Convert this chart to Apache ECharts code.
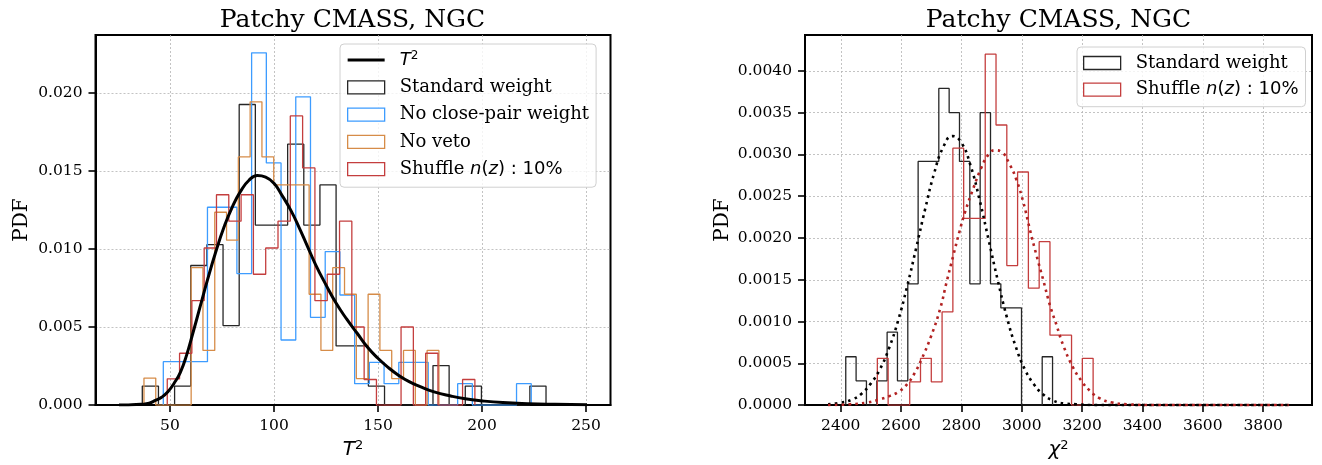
<!DOCTYPE html>
<html><head><meta charset="utf-8">
<script src="https://cdn.jsdelivr.net/npm/echarts@6/dist/echarts.min.js"></script>
<style>html,body{margin:0;padding:0;background:#fff}#c{width:1322px;height:465px}</style>
</head><body><div id="c"></div>
<script>
// ---------------- data ----------------
const panelTitle = 'Patchy CMASS, NGC';
const leftXTicks = [50, 100, 150, 200, 250];
const leftYTicks = [0, 0.005, 0.010, 0.015, 0.020];
const rightXTicks = [2400, 2600, 2800, 3000, 3200, 3400, 3600, 3800];
const rightYTicks = [0, 0.0005, 0.0010, 0.0015, 0.0020, 0.0025, 0.0030, 0.0035, 0.0040];

// left panel histograms: [first edge, last edge] and PDF per bin
const stdLeftRange = [36.7, 230.8];
const stdLeftPdf = [0.00122, 0, 0.00122, 0.00894, 0.01027, 0.00509, 0.01925, 0.01153, 0.01153, 0.01671,
  0.01153, 0.0141, 0.00379, 0.00379, 0.00122, 0, 0, 0, 0.00253, 0, 0.00122, 0, 0, 0, 0.00122];
const noCpRange = [46.8, 223.7];
const noCpPdf = [0.00278, 0.00278, 0.00278, 0.01267, 0.01267, 0.00842, 0.02256, 0.01551, 0.00417, 0.01974,
  0.00562, 0.00983, 0.00705, 0.00137, 0.00274, 0.00137, 0.00274, 0.00274, 0, 0, 0.00137, 0, 0, 0, 0.00137];
const noVetoRange = [37.5, 179.3];
const noVetoPdf = [0.00173, 0, 0, 0, 0.0088, 0.0035, 0.01235, 0.01056, 0.01589, 0.01942,
  0.01589, 0.0141, 0.0141, 0.0141, 0.0071, 0.0035, 0.0088, 0.0071, 0.0017, 0.0071, 0.0035, 0.0017, 0.0035, 0, 0.0035];
const shufLeftRange = [48.7, 196.6];
const shufLeftPdf = [0.00168, 0.00332, 0.00669, 0.01006, 0.01347, 0.01178, 0.01347, 0.00838, 0.01006, 0.01178,
  0.01852, 0.01519, 0.00669, 0.00838, 0.01178, 0.005, 0.00164, 0, 0, 0.005, 0, 0.00332, 0, 0, 0.00164];

// T^2 theoretical curve
const t2X = [25.5, 30, 36, 40, 43, 46, 49, 52, 55, 58, 61, 64.5, 68, 72, 76, 80, 84, 88, 92, 96, 100, 104, 108, 112,
  116, 120, 125, 130, 135, 140, 145, 150, 155, 160, 165, 170, 177, 185, 192, 200, 210, 222, 235, 250.5];
const t2Y = [0, 0.00001, 0.00005, 0.00012, 0.0003, 0.0005, 0.00085, 0.0014, 0.0021, 0.0032, 0.0046, 0.0063, 0.0080,
  0.0098, 0.0114, 0.0127, 0.0137, 0.0144, 0.0147, 0.0146, 0.0142, 0.0134, 0.0125, 0.0114, 0.0102, 0.0090, 0.0077,
  0.0065, 0.0055, 0.0046, 0.0037, 0.0030, 0.0024, 0.0019, 0.0015, 0.0012, 0.00085, 0.00058, 0.0004, 0.00027,
  0.00016, 0.00009, 0.00005, 0.00002];

// right panel histograms
const stdRightRange = [2416.6, 3102.0];
const stdRightPdf = [0.000579, 0.00029, 0, 0.00029, 0.000873, 0.00029, 0.001452, 0.002917, 0.002917, 0.00379,
  0.0035, 0.002917, 0.001452, 0.0035, 0.001452, 0.001163, 0.001163, 0, 0, 0.000579];
const shufRightRange = [2521.3, 3236.5];
const shufRightPdf = [0.00056, 0, 0, 0.000278, 0.00056, 0.000278, 0.001115, 0.003075, 0.002234, 0.002234,
  0.0042, 0.003353, 0.00167, 0.00279, 0.0014, 0.001956, 0.000837, 0.000837, 0, 0.00056];

// fitted curves (dotted)
const fitStdX = [2358, 2400, 2440, 2470, 2500, 2530, 2560, 2590, 2620, 2650, 2680, 2710, 2740, 2770, 2800, 2830,
  2860, 2890, 2920, 2950, 2980, 3010, 3040, 3070, 3100, 3140, 3180, 3250, 3400, 3600, 3885];
const fitStdY = [0.00001, 0.00003, 0.00007, 0.00014, 0.00026, 0.00043, 0.00068, 0.00101, 0.00142, 0.00188, 0.00235,
  0.00278, 0.00309, 0.00322, 0.00314, 0.00287, 0.00246, 0.00198, 0.0015, 0.00106, 0.0007, 0.00043, 0.00025,
  0.00013, 0.00006, 0.00002, 0.00001, 0, 0, 0, 0];
const fitShufX = [2358, 2430, 2486, 2530, 2563, 2596, 2620, 2646, 2668, 2700, 2730, 2750, 2773, 2793, 2812, 2840,
  2867, 2890, 2911, 2933, 2960, 2983, 3005, 3027, 3049, 3071, 3093, 3115, 3137, 3170, 3198, 3226, 3259, 3300,
  3350, 3450, 3600, 3885];
const fitShufY = [0, 0.00001, 0.00003, 0.00007, 0.00011, 0.00017, 0.00025, 0.00039, 0.00055, 0.00083, 0.00116,
  0.00146, 0.00179, 0.00207, 0.00231, 0.0026, 0.00285, 0.003, 0.00305, 0.00303, 0.00288, 0.00269, 0.00243,
  0.0021, 0.00179, 0.0015, 0.0012, 0.00096, 0.00072, 0.00045, 0.00029, 0.00017, 0.00008, 0.00003, 0.00001, 0, 0, 0];

// ---------------- helpers ----------------
function stepOutline(range, pdf) {
  const n = pdf.length, w = (range[1] - range[0]) / n;
  const pts = [[range[0], 0]];
  for (let i = 0; i < n; i++) {
    const a = range[0] + i * w, b = range[0] + (i + 1) * w;
    pts.push([a, pdf[i]], [b, pdf[i]]);
  }
  pts.push([range[1], 0]);
  return pts;
}
const zip = (xs, ys) => xs.map((x, i) => [x, ys[i]]);

const C = { black: '#262626', blue: '#3d9cff', orange: '#d68c48', red: '#c43e3e', redFit: '#b22222' };
const SERIF = 'DejaVu Serif';
const richMath = {
  g: { width: 10, fontSize: 18, lineHeight: 20 },
  s: { fontFamily: SERIF, fontSize: 18, lineHeight: 20, color: '#000' },
  it: { fontFamily: 'DejaVu Sans', fontStyle: 'italic', fontSize: 18, lineHeight: 20, color: '#000' },
  sup: { fontFamily: 'DejaVu Sans', fontSize: 12, lineHeight: 12, verticalAlign: 'top', color: '#000' },
  m: { fontFamily: 'DejaVu Sans', fontSize: 18, lineHeight: 20, color: '#000' }
};
const legendNames = {
  t2: '{g| }{it|T}{sup|2}',
  stdL: '{g| }{s|Standard weight}',
  ncpL: '{g| }{s|No close-pair weight}',
  nvL: '{g| }{s|No veto}',
  shL: '{g| }{s|Shuffle }{it|n}{m|(}{it|z}{m|) : 10%}',
  stdR: '{g| }{s|Standard weight}',
  shR: '{g| }{s|Shuffle }{it|n}{m|(}{it|z}{m|) : 10%}'
};
const histIcon = (name, col) => ({ name, icon: 'rect', itemStyle: { color: '#ffffff', borderColor: col, borderWidth: 1.3 } });

function valueAxis(gridIndex, min, max, ticks, fmt, extra) {
  return Object.assign({
    type: 'value', gridIndex, min, max,
    axisLine: { show: true, onZero: false, lineStyle: { color: '#000', width: 2 } },
    axisTick: { show: true, customValues: ticks, length: 7, lineStyle: { color: '#000', width: 1.6 } },
    axisLabel: { customValues: ticks, formatter: fmt, fontFamily: SERIF, fontSize: 15.5, color: '#000', margin: 13 },
    splitLine: { show: true, lineStyle: { color: '#b4b4b4', width: 0.8, type: [2, 2] } }
  }, extra || {});
}
const axisNameRich = {
  it: { fontFamily: 'DejaVu Sans', fontStyle: 'italic', fontSize: 20, lineHeight: 22, color: '#000' },
  sup: { fontFamily: 'DejaVu Sans', fontSize: 13, lineHeight: 13, verticalAlign: 'top', color: '#000' }
};

const option = {
  animation: false,
  backgroundColor: '#ffffff',
  title: [
    { text: panelTitle, left: 352.5, top: 8, textAlign: 'center', padding: 0,
      textStyle: { fontFamily: SERIF, fontSize: 25, fontWeight: 'normal', color: '#000' } },
    { text: panelTitle, left: 1058.5, top: 8, textAlign: 'center', padding: 0,
      textStyle: { fontFamily: SERIF, fontSize: 25, fontWeight: 'normal', color: '#000' } }
  ],
  grid: [
    { left: 95.5, top: 35, width: 515, height: 375.7, show: true, borderColor: '#000', borderWidth: 2, containLabel: false },
    { left: 805, top: 35, width: 507, height: 372.7, show: true, borderColor: '#000', borderWidth: 2, containLabel: false }
  ],
  xAxis: [
    valueAxis(0, 14.2, 261.8, leftXTicks, v => String(v), {
      name: '{it|T}{sup|2}', nameLocation: 'middle', nameGap: 18, nameTextStyle: { rich: axisNameRich }
    }),
    valueAxis(1, 2281.5, 3962, rightXTicks, v => String(v), {
      name: '{it|χ}{sup|2}', nameLocation: 'middle', nameGap: 19, nameTextStyle: { rich: axisNameRich }
    })
  ],
  yAxis: [
    valueAxis(0, 0, 0.0237, leftYTicks, v => v.toFixed(3), {
      name: 'PDF', nameLocation: 'middle', nameGap: 64, nameRotate: 90,
      nameTextStyle: { fontFamily: SERIF, fontSize: 20, color: '#000' }
    }),
    valueAxis(1, 0, 0.00443, rightYTicks, v => v.toFixed(4), {
      name: 'PDF', nameLocation: 'middle', nameGap: 72, nameRotate: 90,
      nameTextStyle: { fontFamily: SERIF, fontSize: 20, color: '#000' }
    })
  ],
  legend: [
    {
      orient: 'vertical', left: 340, top: 44, padding: [6, 7, 8, 7], itemGap: 7.3,
      itemWidth: 37, itemHeight: 13, selectedMode: false,
      backgroundColor: 'rgba(255,255,255,0.8)', borderColor: '#d0d0d0', borderWidth: 1, borderRadius: 4,
      formatter: n => legendNames[n],
      textStyle: { fontFamily: SERIF, fontSize: 18, color: '#000', lineHeight: 20, rich: richMath },
      data: [
        { name: 't2', icon: 'path://M0,0H40V3H0Z', itemStyle: { color: '#000', borderWidth: 0 } },
        histIcon('stdL', C.black), histIcon('ncpL', C.blue), histIcon('nvL', C.orange), histIcon('shL', C.red)
      ]
    },
    {
      orient: 'vertical', left: 1077, top: 47, padding: [6, 7, 7, 6], itemGap: 6.7,
      itemWidth: 37, itemHeight: 13, selectedMode: false,
      backgroundColor: 'rgba(255,255,255,0.8)', borderColor: '#d0d0d0', borderWidth: 1, borderRadius: 4,
      formatter: n => legendNames[n],
      textStyle: { fontFamily: SERIF, fontSize: 18, color: '#000', lineHeight: 20, rich: richMath },
      data: [histIcon('stdR', C.black), histIcon('shR', C.red)]
    }
  ],
  series: [
    { name: 'stdL', type: 'line', xAxisIndex: 0, yAxisIndex: 0, data: stepOutline(stdLeftRange, stdLeftPdf),
      showSymbol: false, symbol: 'none', lineStyle: { color: C.black, width: 1.3 }, itemStyle: { color: C.black }, z: 3 },
    { name: 'ncpL', type: 'line', xAxisIndex: 0, yAxisIndex: 0, data: stepOutline(noCpRange, noCpPdf),
      showSymbol: false, symbol: 'none', lineStyle: { color: C.blue, width: 1.3 }, itemStyle: { color: C.blue }, z: 3 },
    { name: 'nvL', type: 'line', xAxisIndex: 0, yAxisIndex: 0, data: stepOutline(noVetoRange, noVetoPdf),
      showSymbol: false, symbol: 'none', lineStyle: { color: C.orange, width: 1.3 }, itemStyle: { color: C.orange }, z: 3 },
    { name: 'shL', type: 'line', xAxisIndex: 0, yAxisIndex: 0, data: stepOutline(shufLeftRange, shufLeftPdf),
      showSymbol: false, symbol: 'none', lineStyle: { color: C.red, width: 1.3 }, itemStyle: { color: C.red }, z: 3 },
    { name: 't2', type: 'line', xAxisIndex: 0, yAxisIndex: 0, data: zip(t2X, t2Y), smooth: 0.5,
      showSymbol: false, symbol: 'none', lineStyle: { color: '#000', width: 3, join: 'round' }, itemStyle: { color: '#000' }, z: 5 },
    { name: 'stdR', type: 'line', xAxisIndex: 1, yAxisIndex: 1, data: stepOutline(stdRightRange, stdRightPdf),
      showSymbol: false, symbol: 'none', lineStyle: { color: C.black, width: 1.3 }, itemStyle: { color: C.black }, z: 3 },
    { name: 'shR', type: 'line', xAxisIndex: 1, yAxisIndex: 1, data: stepOutline(shufRightRange, shufRightPdf),
      showSymbol: false, symbol: 'none', lineStyle: { color: C.red, width: 1.3 }, itemStyle: { color: C.red }, z: 3 },
    { name: 'fitStd', type: 'line', xAxisIndex: 1, yAxisIndex: 1, data: zip(fitStdX, fitStdY), smooth: 0.5,
      showSymbol: false, symbol: 'none', lineStyle: { color: '#000', width: 2.6, type: [2.6, 4.2] }, z: 5 },
    { name: 'fitShuf', type: 'line', xAxisIndex: 1, yAxisIndex: 1, data: zip(fitShufX, fitShufY), smooth: 0.5,
      showSymbol: false, symbol: 'none', lineStyle: { color: C.redFit, width: 2.6, type: [2.6, 4.2] }, z: 5 }
  ]
};
const chart = echarts.init(document.getElementById('c'), null, { renderer: 'canvas', width: 1322, height: 465 });
chart.setOption(option);
</script>
</body></html>
